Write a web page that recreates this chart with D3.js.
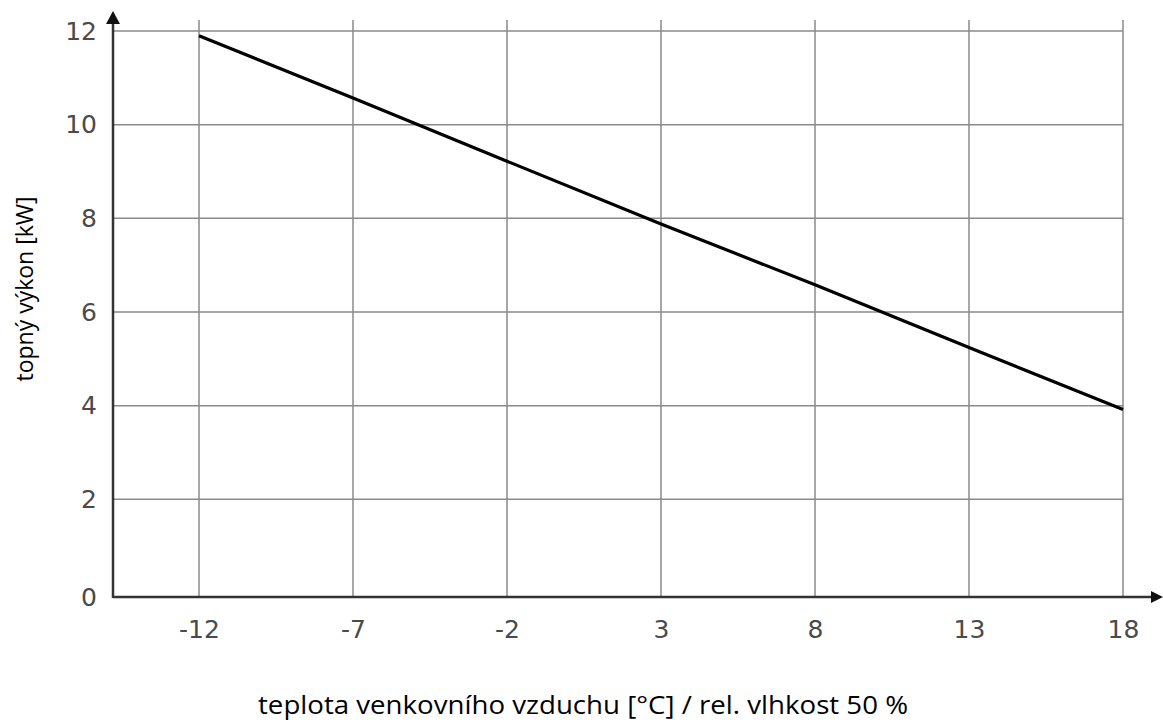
<!DOCTYPE html>
<html>
<head>
<meta charset="utf-8">
<script src="https://cdn.jsdelivr.net/npm/d3@7"></script>
<style>
  body { margin: 0; background: #fff; }
</style>
</head>
<body>
<svg id="chart" width="1163" height="724"></svg>
<script>
// hodnoty
var teploty = [-12, -7, -2, 3, 8, 13, 18];
var vykon = [11.9, 10.57, 9.22, 7.88, 6.58, 5.24, 3.92];
var yTicks = [0, 2, 4, 6, 8, 10, 12];

var svg = d3.select("#chart");

var x = d3.scaleLinear().domain([-12, 18]).range([199, 1123]);
var y = d3.scaleLinear().domain([0, 12]).range([593, 31]);

var x0 = 113, yBase = 597;

// mrizka - svisle
svg.append("g").selectAll("line").data(teploty).enter().append("line")
    .attr("x1", function (d) { return x(d); })
    .attr("x2", function (d) { return x(d); })
    .attr("y1", 20).attr("y2", yBase)
    .attr("stroke", "#8a8a8a").attr("stroke-width", 1.5);

// mrizka - vodorovne
svg.append("g").selectAll("line").data(yTicks.slice(1)).enter().append("line")
    .attr("x1", x0).attr("x2", x(18))
    .attr("y1", function (d) { return y(d); })
    .attr("y2", function (d) { return y(d); })
    .attr("stroke", "#8a8a8a").attr("stroke-width", 1.5);

// popisky os
var xAxis = d3.axisBottom(x).tickValues(teploty).tickSize(0).tickPadding(23)
    .tickFormat(function (d) { return d3.format("d")(d).replace("−", "-"); });
var gx = svg.append("g").attr("transform", "translate(0," + yBase + ")").call(xAxis);
gx.select(".domain").remove();

var yAxis = d3.axisLeft(y).tickValues(yTicks).tickSize(0).tickPadding(16);
var gy = svg.append("g").attr("transform", "translate(" + x0 + ",0)").call(yAxis);
gy.select(".domain").remove();
gy.selectAll(".tick").filter(function (d) { return d === 0; }).attr("transform", "translate(0," + (yBase + 1) + ")");

svg.selectAll(".tick text")
    .attr("fill", "#4a4a4a")
    .style("font-family", "'DejaVu Sans', sans-serif")
    .style("font-size", "25px");

// osy se sipkami
svg.append("line").attr("x1", x0).attr("x2", 1152).attr("y1", yBase).attr("y2", yBase)
    .attr("stroke", "#333").attr("stroke-width", 2.5);
svg.append("path").attr("d", "M1163," + yBase + " L1151," + (yBase - 6) + " L1151," + (yBase + 6) + " Z").attr("fill", "#111");
svg.append("line").attr("x1", x0).attr("x2", x0).attr("y1", yBase + 1).attr("y2", 20)
    .attr("stroke", "#333").attr("stroke-width", 2.5);
svg.append("path").attr("d", "M" + x0 + ",11 L" + (x0 - 7) + ",24 L" + (x0 + 7) + ",24 Z").attr("fill", "#111");

// krivka
var line = d3.line()
    .x(function (d, i) { return x(teploty[i]); })
    .y(function (d) { return y(d); });
svg.append("path").datum(vykon).attr("d", line)
    .attr("fill", "none").attr("stroke", "#000").attr("stroke-width", 3.2);

// nazvy os
svg.append("text").attr("x", 583).attr("y", 714).attr("text-anchor", "middle")
    .attr("textLength", 650).attr("lengthAdjust", "spacingAndGlyphs")
    .style("font-family", "'Open Sans', sans-serif").style("font-size", "25px").style("fill", "#000")
    .text("teplota venkovního vzduchu [°C] / rel. vlhkost 50 %");
svg.append("text").attr("transform", "translate(33,289) rotate(-90)").attr("text-anchor", "middle")
    .style("font-family", "'Open Sans', sans-serif").style("font-size", "23px").style("fill", "#000")
    .text("topný výkon [kW]");
</script>
</body>
</html>
